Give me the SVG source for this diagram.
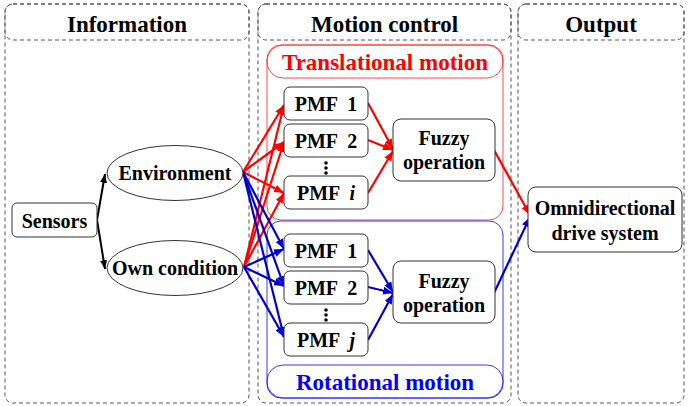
<svg xmlns="http://www.w3.org/2000/svg" width="688" height="406" viewBox="0 0 688 406">
<style>
text{font-family:'Liberation Serif','DejaVu Serif',serif;font-weight:700;fill:#000}
.hd{font-size:23px}
.nd{font-size:20px}
.pmf{font-size:20px;word-spacing:5px}
.panel{fill:none;stroke:#555;stroke-width:1;stroke-dasharray:4,3}
.box{fill:#fff;stroke:#333;stroke-width:1}
.ell{fill:#fff;stroke:#333;stroke-width:1}
.r{stroke:#f00;stroke-width:2.2;fill:none}
.b{stroke:#00c;stroke-width:2.2;fill:none}
.k{stroke:#000;stroke-width:2;fill:none}
</style>
<defs>
<marker id="ar" viewBox="0 0 10 8" refX="10" refY="4" markerWidth="10" markerHeight="8" markerUnits="userSpaceOnUse" orient="auto"><path d="M0,0L10,4L0,8z" fill="#f00"/></marker>
<marker id="ab" viewBox="0 0 10 8" refX="10" refY="4" markerWidth="10" markerHeight="8" markerUnits="userSpaceOnUse" orient="auto"><path d="M0,0L10,4L0,8z" fill="#00c"/></marker>
<marker id="ak" viewBox="0 0 10 8" refX="10" refY="4" markerWidth="9" markerHeight="7" markerUnits="userSpaceOnUse" orient="auto"><path d="M0,0L10,4L0,8z" fill="#000"/></marker>
</defs>
<rect width="688" height="406" fill="#fff"/>
<g id="panel-information">
<rect class="panel" x="5" y="4" width="244" height="399" rx="8"/>
<rect class="panel" x="5" y="4" width="244" height="36" rx="8"/>
<text class="hd" x="127" y="32" text-anchor="middle">Information</text>
</g>
<g id="panel-motion">
<rect class="panel" x="258" y="4" width="253" height="399" rx="8"/>
<rect class="panel" x="258" y="4" width="253" height="36" rx="8"/>
<text class="hd" x="384.5" y="32" text-anchor="middle">Motion control</text>
</g>
<g id="panel-output">
<rect class="panel" x="518" y="4" width="166" height="399" rx="8"/>
<rect class="panel" x="518" y="4" width="166" height="36" rx="8"/>
<text class="hd" x="601" y="32" text-anchor="middle">Output</text>
</g>
<g id="group-translational">
<rect x="267" y="45" width="236" height="175" rx="14" fill="none" stroke="#f33" stroke-width="0.9"/>
<rect x="267" y="45" width="236" height="33" rx="16" fill="none" stroke="#f33" stroke-width="0.9"/>
<text class="hd" x="385" y="70" text-anchor="middle" style="fill:#f00">Translational motion</text>
</g>
<g id="group-rotational">
<rect x="267" y="221" width="236" height="177" rx="14" fill="none" stroke="#22f" stroke-width="0.9"/>
<rect x="267" y="365" width="236" height="33" rx="16" fill="none" stroke="#22f" stroke-width="0.9"/>
<text class="hd" x="385" y="390" text-anchor="middle" style="fill:#00f">Rotational motion</text>
</g>
<g id="connectors">
<path class="k" d="M97,220L105,174" marker-end="url(#ak)"/>
<path class="k" d="M97,220L105,269" marker-end="url(#ak)"/>
<path class="r" d="M243,172L284,105" marker-end="url(#ar)"/>
<path class="r" d="M243,172L284,142" marker-end="url(#ar)"/>
<path class="r" d="M243,172L284,193" marker-end="url(#ar)"/>
<path class="r" d="M244,267L284,105" marker-end="url(#ar)"/>
<path class="r" d="M244,267L284,142" marker-end="url(#ar)"/>
<path class="r" d="M244,267L284,193" marker-end="url(#ar)"/>
<path class="b" d="M243,172L284,249" marker-end="url(#ab)"/>
<path class="b" d="M243,172L284,286" marker-end="url(#ab)"/>
<path class="b" d="M243,172L284,337" marker-end="url(#ab)"/>
<path class="b" d="M244,267L284,249" marker-end="url(#ab)"/>
<path class="b" d="M244,267L284,286" marker-end="url(#ab)"/>
<path class="b" d="M244,267L284,337" marker-end="url(#ab)"/>
<path class="r" d="M368,103L393,149" marker-end="url(#ar)"/>
<path class="r" d="M368,140L393,150" marker-end="url(#ar)"/>
<path class="r" d="M368,193L393,151" marker-end="url(#ar)"/>
<path class="b" d="M368,250L393,292" marker-end="url(#ab)"/>
<path class="b" d="M368,287L393,293" marker-end="url(#ab)"/>
<path class="b" d="M368,340L393,294" marker-end="url(#ab)"/>
<path class="r" d="M494,150L530,215" marker-end="url(#ar)"/>
<path class="b" d="M494,293L530,217" marker-end="url(#ab)"/>
</g>
<g id="node-sensors">
<rect class="box" x="12" y="203" width="85" height="34" rx="5"/>
<text class="nd" x="54.5" y="228" text-anchor="middle">Sensors</text>
</g>
<g id="node-environment">
<ellipse class="ell" cx="175" cy="173" rx="68" ry="27.5"/>
<text class="nd" x="175" y="180" text-anchor="middle">Environment</text>
</g>
<g id="node-own-condition">
<ellipse class="ell" cx="175" cy="268" rx="68" ry="27.5"/>
<text class="nd" x="175" y="275" text-anchor="middle">Own condition</text>
</g>
<g id="node-pmf-t1">
<rect class="box" x="284" y="87" width="84" height="33" rx="6"/>
<text class="pmf" x="326" y="111" text-anchor="middle">PMF 1</text>
</g>
<g id="node-pmf-t2">
<rect class="box" x="284" y="124" width="84" height="33" rx="6"/>
<text class="pmf" x="326" y="148" text-anchor="middle">PMF 2</text>
</g>
<g id="dots-t" fill="#000">
<circle cx="326" cy="163" r="1.8"/><circle cx="326" cy="168" r="1.8"/><circle cx="326" cy="173" r="1.8"/>
</g>
<g id="node-pmf-ti">
<rect class="box" x="284" y="176" width="84" height="33" rx="6"/>
<text class="pmf" x="326" y="200" text-anchor="middle">PMF <tspan font-style="italic">i</tspan></text>
</g>
<g id="node-fuzzy-t">
<rect class="box" x="393" y="119" width="102" height="62" rx="8"/>
<text class="nd" x="444" y="145" text-anchor="middle">Fuzzy</text>
<text class="nd" x="444" y="169" text-anchor="middle">operation</text>
</g>
<g id="node-pmf-r1">
<rect class="box" x="284" y="234" width="84" height="33" rx="6"/>
<text class="pmf" x="326" y="258" text-anchor="middle">PMF 1</text>
</g>
<g id="node-pmf-r2">
<rect class="box" x="284" y="271" width="84" height="33" rx="6"/>
<text class="pmf" x="326" y="295" text-anchor="middle">PMF 2</text>
</g>
<g id="dots-r" fill="#000">
<circle cx="326" cy="310" r="1.8"/><circle cx="326" cy="315" r="1.8"/><circle cx="326" cy="320" r="1.8"/>
</g>
<g id="node-pmf-rj">
<rect class="box" x="284" y="323" width="84" height="33" rx="6"/>
<text class="pmf" x="326" y="347" text-anchor="middle">PMF <tspan font-style="italic">j</tspan></text>
</g>
<g id="node-fuzzy-r">
<rect class="box" x="393" y="261" width="102" height="62" rx="8"/>
<text class="nd" x="444" y="288" text-anchor="middle">Fuzzy</text>
<text class="nd" x="444" y="312" text-anchor="middle">operation</text>
</g>
<g id="node-omni">
<rect class="box" x="528" y="187" width="154" height="65" rx="8"/>
<text class="nd" x="605" y="215" text-anchor="middle">Omnidirectional</text>
<text class="nd" x="605" y="240" text-anchor="middle">drive system</text>
</g>
</svg>
